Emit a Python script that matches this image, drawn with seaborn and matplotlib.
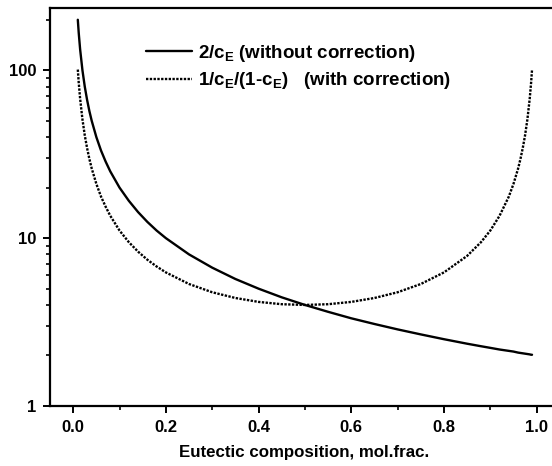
import matplotlib
matplotlib.use("Agg")
import matplotlib.pyplot as plt
import seaborn as sns
import pandas as pd
from matplotlib.ticker import MultipleLocator, LogLocator, NullFormatter, FixedLocator, FixedFormatter

# Eutectic composition (mol. frac.)
c_e = [0.01, 0.012, 0.015, 0.02, 0.025, 0.03, 0.035, 0.04, 0.05, 0.06, 0.07, 0.08,
       0.1, 0.12, 0.14, 0.16, 0.18, 0.2, 0.25, 0.3, 0.35, 0.4, 0.45, 0.5, 0.55, 0.6,
       0.65, 0.7, 0.75, 0.8, 0.85, 0.88, 0.9, 0.92, 0.94, 0.95, 0.96, 0.965, 0.97,
       0.975, 0.98, 0.985, 0.988, 0.99]

# 2/cE (without correction)
no_corr = [200, 166.7, 133.3, 100, 80, 66.7, 57.1, 50, 40, 33.3, 28.6, 25,
           20, 16.7, 14.3, 12.5, 11.1, 10, 8, 6.67, 5.71, 5, 4.44, 4, 3.64, 3.33,
           3.08, 2.86, 2.67, 2.5, 2.35, 2.27, 2.22, 2.17, 2.13, 2.11, 2.08, 2.07, 2.06,
           2.05, 2.04, 2.03, 2.02, 2.02]

# 1/cE/(1-cE) (with correction)
with_corr = [101.0, 84.3, 67.7, 51.0, 41.0, 34.4, 29.6, 26.0, 21.05, 17.7, 15.4, 13.6,
             11.1, 9.47, 8.31, 7.44, 6.78, 6.25, 5.33, 4.76, 4.40, 4.17, 4.04, 4.0, 4.04, 4.17,
             4.40, 4.76, 5.33, 6.25, 7.84, 9.47, 11.1, 13.6, 17.7, 21.05, 26.0, 29.6, 34.4,
             41.0, 51.0, 67.7, 84.3, 101.0]

sns.set_theme(style="ticks")
plt.rcParams.update({
    'font.family': ['Liberation Sans', 'DejaVu Sans'],
    'font.weight': 'bold',
    'mathtext.fontset': 'custom',
    'mathtext.rm': 'Liberation Sans:bold',
    'mathtext.bf': 'Liberation Sans:bold',
    'mathtext.it': 'Liberation Sans:bold',
    'axes.linewidth': 1.6,
})

df = pd.DataFrame({'c': c_e, 'no': no_corr, 'wc': with_corr})

fig = plt.figure(figsize=(5.52, 4.66), dpi=100)
ax = fig.add_axes([50 / 552, 60 / 466, 1 - 50 / 552 + 0.01, 398 / 466])

sns.lineplot(data=df, x='c', y='no', ax=ax, color='black', linewidth=1.7,
             label=r'2/c$_{\rm E}$ (without correction)')
sns.lineplot(data=df, x='c', y='wc', ax=ax, color='black', linewidth=1.7,
             linestyle=(0, (1.0, 0.6)),
             label=r'1/c$_{\rm E}$/(1-c$_{\rm E}$)   (with correction)')

ax.set_yscale('log')
ax.set_xlim(-0.05, 1.045)
ax.set_ylim(1, 235)

ax.xaxis.set_major_locator(MultipleLocator(0.2))
ax.xaxis.set_minor_locator(MultipleLocator(0.1))
ax.yaxis.set_major_locator(FixedLocator([1, 10, 100]))
ax.yaxis.set_major_formatter(FixedFormatter(['1', '10', '100']))
ax.yaxis.set_minor_locator(LogLocator(base=10, subs=range(2, 10)))
ax.yaxis.set_minor_formatter(NullFormatter())
ax.xaxis.set_major_formatter(matplotlib.ticker.FormatStrFormatter('%.1f'))

ax.tick_params(which='major', direction='out', length=5, width=1.4, labelsize=12,
               color='black', labelcolor='black', pad=5)
ax.tick_params(which='minor', direction='out', length=3, width=1.2, color='black')
ax.tick_params(top=False, right=False, which='both')
for lab in ax.get_xticklabels() + ax.get_yticklabels():
    lab.set_fontweight('bold')

ax.spines['right'].set_visible(False)
for s in ['left', 'bottom', 'top']:
    ax.spines[s].set_color('black')

ax.set_xlabel('Eutectic composition, mol.frac.', fontsize=12.2, fontweight='bold',
              color='black', labelpad=7)
ax.set_ylabel('')

leg = ax.legend(loc='upper left', bbox_to_anchor=(0.155, 0.955), frameon=False,
                prop={'weight': 'bold', 'size': 13.5}, handlelength=2.5,
                handletextpad=0.3, labelspacing=0.35)
for t in leg.get_texts():
    t.set_color('black')

fig.savefig('out.png', dpi=100)
